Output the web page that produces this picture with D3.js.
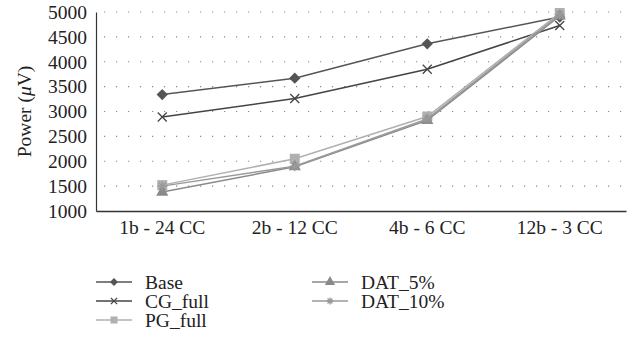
<!DOCTYPE html>
<html>
<head>
<meta charset="utf-8">
<script src="https://cdn.jsdelivr.net/npm/d3@7"></script>
<style>
    body { margin: 0; background: #fff; }
</style>
</head>
<body>
<svg id="chart" width="637" height="351"></svg>
<script>
// Data.
const categories = ['1b - 24 CC', '2b - 12 CC', '4b - 6 CC', '12b - 3 CC'];
const yTicks = [1000, 1500, 2000, 2500, 3000, 3500, 4000, 4500, 5000];
const base = [3340, 3670, 4360, 4900];
const cgFull = [2890, 3260, 3850, 4730];
const pgFull = [1520, 2050, 2900, 4980];
const dat5 = [1380, 1890, 2820, 4920];
const dat10 = [1500, 1900, 2850, 4950];

const series = [
    {name: 'Base', values: base, color: '#555', marker: 'diamond'},
    {name: 'CG_full', values: cgFull, color: '#444', marker: 'cross'},
    {name: 'PG_full', values: pgFull, color: '#b0b0b0', marker: 'square'},
    {name: 'DAT_5%', values: dat5, color: '#8a8a8a', marker: 'triangle'},
    {name: 'DAT_10%', values: dat10, color: '#9a9a9a', marker: 'star'}
];

const FONT = 'Liberation Serif';
const FS = 19.5;
const svg = d3.select('#chart');
const M = {left: 96, right: 626, top: 12, bottom: 211};

const x = d3.scaleBand().domain(categories).range([M.left, M.right]);
const y = d3.scaleLinear().domain([1000, 5000]).range([M.bottom, M.top]);
const cx = d => x(d) + x.bandwidth() / 2;

// Dotted grid.
svg.append('g')
    .selectAll('line')
    .data(yTicks.slice(1))
    .join('line')
    .attr('x1', M.left + 8).attr('x2', M.right)
    .attr('y1', d => y(d)).attr('y2', d => y(d))
    .attr('stroke', '#888')
    .attr('stroke-width', 1.2)
    .attr('stroke-dasharray', '1.2 10.8');

// Axes.
const yAxis = svg.append('g')
    .attr('transform', `translate(${M.left},0)`)
    .call(d3.axisLeft(y).tickValues(yTicks).tickSize(0).tickPadding(9).tickFormat(d3.format('d')));
yAxis.attr('font-family', FONT).attr('font-size', FS);
yAxis.select('.domain').attr('stroke', '#333').attr('stroke-width', 1.2);
yAxis.selectAll('text').attr('fill', '#222');

const xAxis = svg.append('g')
    .attr('transform', `translate(0,${M.bottom})`)
    .call(d3.axisBottom(x).tickSize(0).tickPadding(9));
xAxis.attr('font-family', FONT).attr('font-size', FS);
xAxis.select('.domain').attr('stroke', '#333').attr('stroke-width', 1.5);
xAxis.selectAll('text').attr('fill', '#222');

// Y label.
const yl = svg.append('text')
    .attr('transform', `translate(31,${(M.top + M.bottom) / 2}) rotate(-90)`)
    .attr('text-anchor', 'middle')
    .attr('font-family', FONT)
    .attr('font-size', FS)
    .attr('fill', '#222');
yl.append('tspan').text('Power (');
yl.append('tspan').attr('font-style', 'italic').text('\u03bc');
yl.append('tspan').text('V)');

// Markers.
const drawMarker = (g, type, color, px, py, s) => {
    if (type === 'diamond') {
        const r = s * 0.8;
        g.append('rect').attr('x', -r).attr('y', -r).attr('width', 2 * r).attr('height', 2 * r)
            .attr('transform', `translate(${px},${py}) rotate(45)`).attr('fill', color);
    } else if (type === 'cross') {
        const r = s * 0.9;
        g.append('path').attr('d', `M${px - r},${py - r}L${px + r},${py + r}M${px - r},${py + r}L${px + r},${py - r}`)
            .attr('stroke', color).attr('stroke-width', 1.3).attr('fill', 'none');
    } else if (type === 'square') {
        g.append('rect').attr('x', px - s).attr('y', py - s).attr('width', 2 * s).attr('height', 2 * s).attr('fill', color);
    } else if (type === 'triangle') {
        g.append('path').attr('d', d3.symbol(d3.symbolTriangle, s * 13)()).attr('transform', `translate(${px},${py})`).attr('fill', color);
    } else {
        const r = s;
        g.append('path').attr('d', `M${px - r},${py}L${px + r},${py}M${px},${py - r}L${px},${py + r}M${px - r * 0.7},${py - r * 0.7}L${px + r * 0.7},${py + r * 0.7}M${px - r * 0.7},${py + r * 0.7}L${px + r * 0.7},${py - r * 0.7}`)
            .attr('stroke', color).attr('stroke-width', 1.3).attr('fill', 'none');
    }
};

const line = d3.line().x((d, i) => cx(categories[i])).y(d => y(d));
const plot = svg.append('g');
series.forEach(s => {
    plot.append('path')
        .datum(s.values)
        .attr('d', line)
        .attr('fill', 'none')
        .attr('stroke', s.color)
        .attr('stroke-width', 1.5);
    s.values.forEach((v, i) => drawMarker(plot, s.marker, s.color, cx(categories[i]), y(v), 5));
});

// Legend.
const legend = svg.append('g').attr('font-family', FONT).attr('font-size', FS).attr('fill', '#222');
const legendPos = [[96, 282], [96, 301], [96, 320], [312, 282], [312, 301]];
series.forEach((s, i) => {
    const [lx, ly] = legendPos[i];
    legend.append('line')
        .attr('x1', lx).attr('x2', lx + 36)
        .attr('y1', ly).attr('y2', ly)
        .attr('stroke', s.color).attr('stroke-width', 1.5);
    drawMarker(legend, s.marker, s.color, lx + 18, ly, 3.5);
    legend.append('text')
        .attr('x', lx + 49).attr('y', ly)
        .attr('dy', '0.35em')
        .text(s.name);
});
</script>
</body>
</html>
